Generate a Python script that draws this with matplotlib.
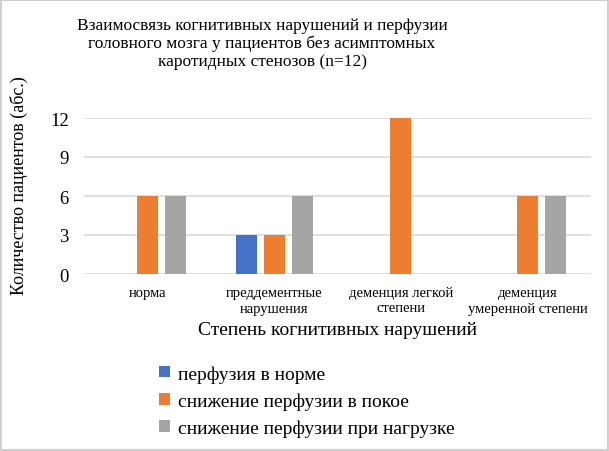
import matplotlib
matplotlib.use("Agg")
import matplotlib.pyplot as plt
import numpy as np
from matplotlib.patches import Rectangle

categories = ["норма", "преддементные\nнарушения", "деменция легкой\nстепени", "деменция\nумеренной степени"]
series_names = ["перфузия в норме", "снижение перфузии в покое", "снижение перфузии при нагрузке"]
perf_norm = [0, 3, 0, 0]
perf_rest = [6, 3, 12, 6]
perf_load = [6, 6, 0, 6]
yticks = [0, 3, 6, 9, 12]
colors = ["#4472C4", "#ED7D31", "#A5A5A5"]

plt.rcParams['font.family'] = ['Liberation Serif', 'DejaVu Serif']

fig = plt.figure(figsize=(6.09, 4.52), dpi=100)
fig.patches.append(Rectangle((0.002, 0.002), 0.996, 0.996, transform=fig.transFigure,
                             fill=False, edgecolor="#D0D0D0", linewidth=1.5))
ax = fig.add_axes([84/609, 1-275/452, (591-84)/609, 156/452])

x = np.arange(len(categories))
w = 0.166
step = 0.221
for i, vals in enumerate([perf_norm, perf_rest, perf_load]):
    ax.bar(x + (i-1)*step, vals, width=w, color=colors[i], label=series_names[i], zorder=3)

ax.set_xlim(-0.5, len(categories)-0.5)
ax.set_ylim(0, 12)
ax.set_yticks(yticks)
ax.set_yticklabels([str(t) for t in yticks], fontsize=13.5)
ax.set_xticks(x)
ax.set_xticklabels(categories, fontsize=10.5, linespacing=1.2)
ax.tick_params(axis='both', length=0)
ax.tick_params(axis='y', pad=11)
ax.tick_params(axis='x', pad=9)
ax.grid(axis='y', color="#D9D9D9", linewidth=1.2, zorder=0)
for s in ax.spines.values():
    s.set_visible(False)

ax.set_ylabel("Количество пациентов (абс.)", fontsize=13)
ax.yaxis.set_label_coords((28-84)/507, (275-186)/156)

fig.text(338/609, 1-331/452, "Степень когнитивных нарушений", fontsize=14, ha='center', va='center')

fig.text(262/609, 1-44/452,
         "Взаимосвязь когнитивных нарушений и перфузии\nголовного мозга у пациентов без асимптомных\nкаротидных стенозов (n=12)",
         fontsize=12.5, ha='center', va='center', linespacing=1.15)

handles, labels = ax.get_legend_handles_labels()
fig.legend(handles, labels, loc='upper left', bbox_to_anchor=(159/609, 1-366/452),
           frameon=False, fontsize=14, handlelength=0.55, handleheight=0.55,
           handletextpad=0.45, labelspacing=0.5, borderaxespad=0, borderpad=0)

fig.savefig("out.png", dpi=100)
